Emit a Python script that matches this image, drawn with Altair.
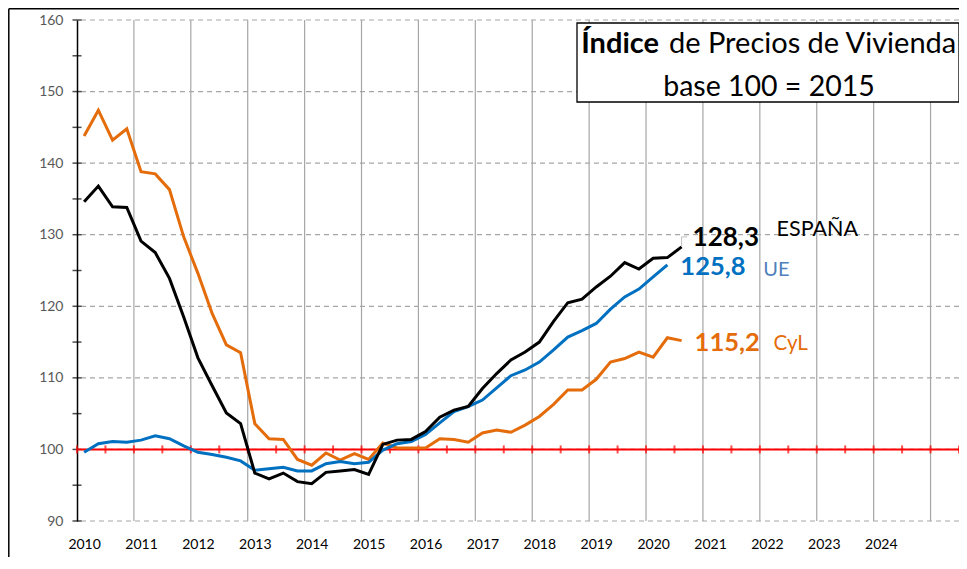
import altair as alt
import pandas as pd

# ---------------- data ----------------
series_names = ["ESPAÑA", "UE", "CyL"]
series_colors = ["#000000", "#0070C0", "#E46C0A"]
name_colors = ["#000000", "#4F81BD", "#E46C0A"]

# quarterly index, first value = 2010 T1
espana = [134.6, 136.8, 133.9, 133.8, 129.1, 127.5, 123.9, 118.5, 112.8, 108.9,
          105.1, 103.6, 96.7, 95.9, 96.7, 95.5, 95.2, 96.8, 97.0, 97.2,
          96.5, 100.7, 101.3, 101.4, 102.5, 104.5, 105.5, 106.0, 108.5, 110.6,
          112.5, 113.6, 115.0, 117.9, 120.5, 121.0, 122.7, 124.2, 126.1, 125.2,
          126.7, 126.8, 128.3]
ue = [99.6, 100.8, 101.1, 101.0, 101.3, 101.9, 101.5, 100.5, 99.6, 99.3,
      98.9, 98.4, 97.1, 97.3, 97.5, 97.0, 97.0, 98.0, 98.3, 98.0,
      98.2, 99.9, 100.8, 101.1, 102.1, 103.7, 105.3, 106.0, 106.9, 108.6,
      110.3, 111.1, 112.2, 113.9, 115.7, 116.6, 117.6, 119.6, 121.3, 122.4,
      124.1, 125.8]
cyl = [143.8, 147.4, 143.2, 144.8, 138.8, 138.5, 136.3, 129.7, 124.6, 119.0,
       114.6, 113.5, 103.6, 101.5, 101.4, 98.6, 97.8, 99.5, 98.5, 99.4,
       98.6, 100.9, 100.2, 100.2, 100.2, 101.5, 101.4, 101.0, 102.3, 102.7,
       102.4, 103.4, 104.6, 106.3, 108.3, 108.3, 109.8, 112.2, 112.7, 113.6,
       112.9, 115.6, 115.2]

first_year = 2010
year_labels = list(range(2010, 2025))
n_quarters = 62            # axis span: 2010 T1 .. 2025 T2
y_ticks = list(range(90, 161, 5))
y_grid = list(range(90, 161, 10))
base_value = 100
title_bold = "Índice"
title_rest = "de Precios de Vivienda"
title_line2 = "base 100 = 2015"

FONT = "Lato"

# ---------------- scales / shared encodings ----------------
x_scale = alt.Scale(domain=[-0.5, n_quarters - 0.5], nice=False, zero=False)
y_scale = alt.Scale(domain=[90, 160], nice=False, zero=False)

x_axis = alt.Axis(
    values=[(y - first_year) * 4 for y in year_labels],
    labelExpr=f"{first_year} + datum.value / 4",
    ticks=False, domain=False, grid=False, title=None,
    labelFont=FONT, labelFontSize=14, labelColor="#000000", labelPadding=16,
)
y_axis = alt.Axis(
    values=y_ticks,
    labelExpr="datum.value % 10 == 0 ? datum.label : ''",
    ticks=False, domain=True, domainColor="#000000", domainWidth=1.5,
    grid=False, title=None,
    labelFont=FONT, labelFontSize=14, labelColor="#595959", labelPadding=14,
)


def X():
    return alt.X("t:Q", scale=x_scale, axis=x_axis)


def Y():
    return alt.Y("valor:Q", scale=y_scale, axis=y_axis)


# ---------------- layers ----------------
layers = []
one = pd.DataFrame({"k": [0]})

# outer chart frame (left and top edges; the rest lies outside the window)
layers.append(alt.Chart(one).mark_rule(color="#000000", strokeWidth=1.5)
              .encode(x=alt.value(-68.2), y=alt.value(-11.2), y2=alt.value(560)))
layers.append(alt.Chart(one).mark_rule(color="#000000", strokeWidth=1.5)
              .encode(x=alt.value(-68.2), x2=alt.value(900), y=alt.value(-11.2)))

# vertical grid at year boundaries
vgrid_df = pd.DataFrame({"t": [(y - first_year) * 4 - 0.5 for y in year_labels[1:]] + [n_quarters - 2.5]})
layers.append(alt.Chart(vgrid_df).mark_rule(color="#A6A6A6", strokeWidth=1.2).encode(x=X()))

# horizontal dashed grid
hgrid_df = pd.DataFrame({"valor": y_grid})
layers.append(alt.Chart(hgrid_df).mark_rule(color="#A6A6A6", strokeWidth=1.2, strokeDash=[5, 4]).encode(y=Y()))

# y axis ticks crossing the axis line
ytick_df = pd.DataFrame({"t": [-0.5] * len(y_ticks), "valor": y_ticks})
layers.append(alt.Chart(ytick_df).mark_tick(orient="horizontal", size=9, thickness=1.5, color="#000000")
              .encode(x=X(), y=Y()))

# red base-100 line with ticks every half year
base_df = pd.DataFrame({"valor": [base_value]})
layers.append(alt.Chart(base_df).mark_rule(color="#FF0000", strokeWidth=2).encode(y=Y()))
rtick_df = pd.DataFrame({"t": [-0.5 + 2 * k for k in range(n_quarters // 2 + 1)],
                         "valor": [base_value] * (n_quarters // 2 + 1)})
layers.append(alt.Chart(rtick_df).mark_tick(orient="vertical", size=8, thickness=2, color="#FF0000")
              .encode(x=X(), y=Y()))

# series lines (orange, blue, black on top)
series_vals = [espana, ue, cyl]
for idx in [2, 1, 0]:
    vals = series_vals[idx]
    sdf = pd.DataFrame({"t": list(range(len(vals))), "valor": vals})
    layers.append(alt.Chart(sdf).mark_line(color=series_colors[idx], strokeWidth=3,
                                           strokeJoin="miter").encode(x=X(), y=Y()))

# small leader line of the ESPAÑA label
lead_df = pd.DataFrame({"t": [len(espana) - 1, len(espana) - 1, len(espana) - 0.6],
                        "valor": [espana[-1], espana[-1] + 1.4, espana[-1] + 1.4],
                        "o": [0, 1, 2]})
layers.append(alt.Chart(lead_df).mark_line(color="#BFBFBF", strokeWidth=1)
              .encode(x=X(), y=Y(), order="o:Q"))

# end labels
num_dx = [11, 13, 13]
num_dy = [-9, 2, 2]
num_size = [26, 25.5, 25.5]
name_dx = [95, 96, 92]
name_dy = [-17, 5, 3]
name_size = [21.5, 20, 20.5]
for idx in range(3):
    vals = series_vals[idx]
    last_t = len(vals) - 1
    ldf = pd.DataFrame({"t": [last_t], "valor": [vals[-1]],
                        "num": [f"{vals[-1]:.1f}".replace(".", ",")],
                        "name": [series_names[idx]]})
    layers.append(alt.Chart(ldf).mark_text(
        align="left", baseline="middle", font=FONT, fontSize=num_size[idx], fontWeight="bold",
        color=series_colors[idx], dx=num_dx[idx], dy=num_dy[idx]
    ).encode(x=X(), y=Y(), text="num:N"))
    layers.append(alt.Chart(ldf).mark_text(
        align="left", baseline="middle", font=FONT, fontSize=name_size[idx],
        color=name_colors[idx], dx=name_dx[idx], dy=name_dy[idx]
    ).encode(x=X(), y=Y(), text="name:N"))

# title box
layers.append(alt.Chart(one).mark_rect(fill="#FFFFFF", stroke="#000000", strokeWidth=1.3)
              .encode(x=alt.value(500), x2=alt.value(882), y=alt.value(3), y2=alt.value(82)))
layers.append(alt.Chart(pd.DataFrame({"s": [title_bold]})).mark_text(
    align="right", baseline="alphabetic", font=FONT, fontSize=29, fontWeight="bold", color="#000000"
).encode(x=alt.value(582), y=alt.value(33), text="s:N"))
layers.append(alt.Chart(pd.DataFrame({"s": [title_rest]})).mark_text(
    align="left", baseline="alphabetic", font=FONT, fontSize=29, color="#000000"
).encode(x=alt.value(592), y=alt.value(33), text="s:N"))
layers.append(alt.Chart(pd.DataFrame({"s": [title_line2]})).mark_text(
    align="center", baseline="alphabetic", font=FONT, fontSize=28.5, color="#000000"
).encode(x=alt.value(692), y=alt.value(76), text="s:N"))

chart = alt.layer(*layers).properties(
    width=882, height=501,
    autosize=alt.AutoSizeParams(type="none"),
    padding={"left": 69, "top": 12, "right": 0, "bottom": 36},
    background="#FFFFFF",
).configure_view(stroke=None)

chart.save("out.html", embed_options={"renderer": "svg", "actions": False})
